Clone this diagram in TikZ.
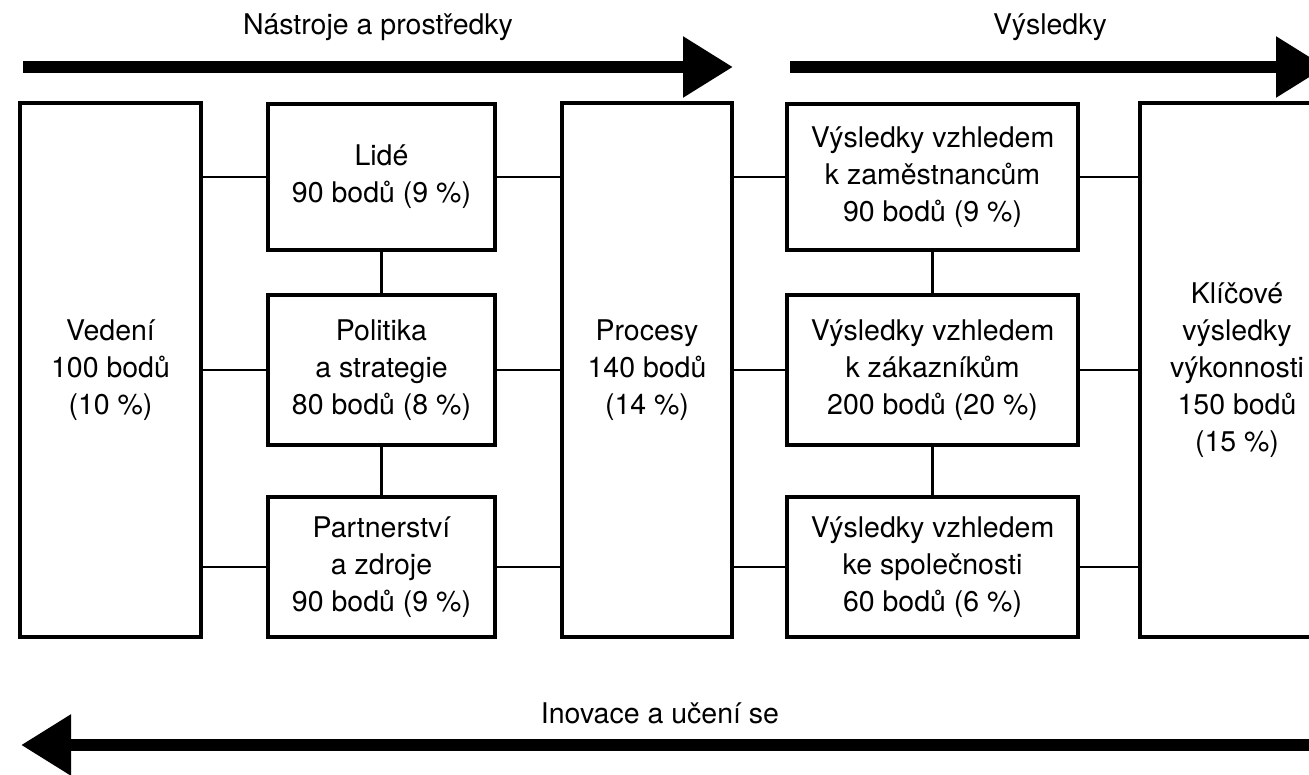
\documentclass[tikz,border=0pt]{standalone}
\usepackage{fontspec}
\setmainfont{TeX Gyre Heros}
\usetikzlibrary{arrows.meta}

\begin{document}
\begin{tikzpicture}[x=1pt, y=-1pt,
    every node/.style={font=\fontsize{28.5}{37}\selectfont},
    box/.style={draw, line width=3.2pt, align=center, inner sep=0pt},
    conn/.style={line width=2.6pt},
    bigarrow/.style={line width=12pt, -{Triangle[length=50pt, width=58pt]}}]
  \useasboundingbox (0, 0) rectangle (1309, 775);
  \clip (0, 0) rectangle (1309, 775);
  % tools and results
  \node[box, minimum width=181pt, minimum height=534pt] (ved) at (110.5, 370) {Vedení\\100 bodů\\(10 \%)};
  \node[box, minimum width=227pt, minimum height=146pt] (lide) at (381.5, 177) {Lidé\\90 bodů (9 \%)};
  \node[box, minimum width=227pt, minimum height=150pt] (pol) at (381.5, 370) {Politika\\a strategie\\80 bodů (8 \%)};
  \node[box, minimum width=227pt, minimum height=140pt] (part) at (381.5, 567) {Partnerství\\a zdroje\\90 bodů (9 \%)};
  \node[box, minimum width=170pt, minimum height=534pt] (proc) at (647, 370) {Procesy\\140 bodů\\(14 \%)};
  \node[box, minimum width=291pt, minimum height=146pt] (zam) at (932.5, 177) {Výsledky vzhledem\\k zaměstnancům\\90 bodů (9 \%)};
  \node[box, minimum width=291pt, minimum height=150pt] (zak) at (932.5, 370) {Výsledky vzhledem\\k zákazníkům\\200 bodů (20 \%)};
  \node[box, minimum width=291pt, minimum height=140pt] (spol) at (932.5, 567) {Výsledky vzhledem\\ke společnosti\\60 bodů (6 \%)};
  \node[box, minimum width=194pt, minimum height=534pt] (klic) at (1237, 370) {Klíčové\\výsledky\\výkonnosti\\150 bodů\\(15 \%)};

  \draw[conn] (ved.east |- lide.west) -- (lide.west);
  \draw[conn] (ved.east |- pol.west) -- (pol.west);
  \draw[conn] (ved.east |- part.west) -- (part.west);
  \draw[conn] (lide.east) -- (proc.west |- lide.east);
  \draw[conn] (pol.east) -- (proc.west |- pol.east);
  \draw[conn] (part.east) -- (proc.west |- part.east);
  \draw[conn] (lide.south) -- (pol.north);
  \draw[conn] (pol.south) -- (part.north);
  \draw[conn] (proc.east |- zam.west) -- (zam.west);
  \draw[conn] (proc.east |- zak.west) -- (zak.west);
  \draw[conn] (proc.east |- spol.west) -- (spol.west);
  \draw[conn] (zam.east) -- (klic.west |- zam.east);
  \draw[conn] (zak.east) -- (klic.west |- zak.east);
  \draw[conn] (spol.east) -- (klic.west |- spol.east);
  \draw[conn] (zam.south) -- (zak.north);
  \draw[conn] (zak.south) -- (spol.north);

  % big arrows
  \node (nastroje) at (378, 27) {Nástroje a prostředky};
  \node (vysledky) at (1050, 27) {Výsledky};
  \node (inovace) at (660, 713) {Inovace a učení se};
  \coordinate (a1) at (23, 67);
  \coordinate (b1) at (733, 67);
  \coordinate (a2) at (790, 67);
  \coordinate (b2) at (1326, 67);
  \coordinate (a3) at (1320, 745);
  \coordinate (b3) at (21, 745);
  \draw[bigarrow] (a1) -- (b1);
  \draw[bigarrow] (a2) -- (b2);
  \draw[bigarrow] (a3) -- (b3);
\end{tikzpicture}
\end{document}
